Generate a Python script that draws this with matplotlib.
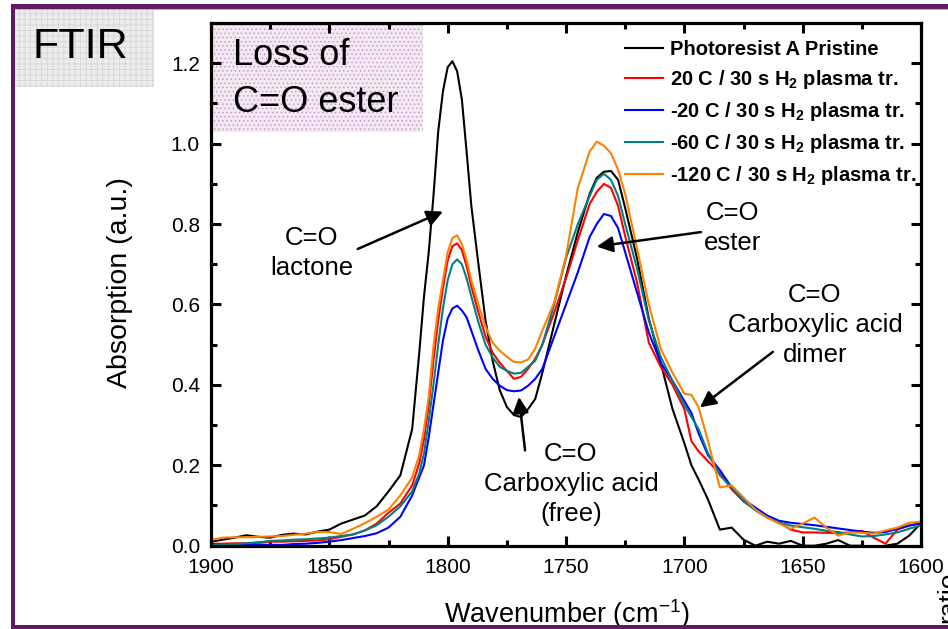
import matplotlib
matplotlib.use("Agg")
import matplotlib.pyplot as plt
from matplotlib.patches import Rectangle
from matplotlib.ticker import MultipleLocator, FormatStrFormatter

plt.rcParams['font.family'] = ['Liberation Sans', 'DejaVu Sans']
plt.rcParams['mathtext.fontset'] = 'custom'
plt.rcParams['mathtext.rm'] = 'Liberation Sans'
plt.rcParams['mathtext.bf'] = 'Liberation Sans:bold'
plt.rcParams['hatch.linewidth'] = 0.6

# wavenumber grid (cm-1), shared by all spectra
Wavenumber = [1900, 1895, 1890, 1885, 1880, 1875, 1870, 1865, 1860, 1855, 1850, 1845, 1840, 1835,
              1830, 1825, 1820, 1815, 1812, 1810, 1808, 1806, 1804, 1802, 1800, 1798, 1796, 1794,
              1792, 1790, 1787, 1784, 1781, 1778, 1775, 1772, 1769, 1766, 1763, 1760, 1755, 1750,
              1745, 1740, 1737, 1734, 1731, 1728, 1725, 1720, 1715, 1710, 1705, 1700, 1697, 1694,
              1690, 1685, 1680, 1675, 1670, 1665, 1660, 1655, 1650, 1645, 1640, 1635, 1630, 1625,
              1620, 1615, 1610, 1605, 1600]

Pristine = [0.010, 0.015, 0.020, 0.026, 0.022, 0.020, 0.027, 0.030, 0.028, 0.035, 0.040, 0.055, 0.065, 0.075,
            0.098, 0.135, 0.175, 0.290, 0.480, 0.620, 0.730, 0.870, 1.030, 1.130, 1.190, 1.205, 1.180, 1.110,
            0.980, 0.845, 0.700, 0.560, 0.460, 0.387, 0.345, 0.325, 0.320, 0.340, 0.365, 0.430, 0.550, 0.670,
            0.780, 0.875, 0.915, 0.930, 0.932, 0.910, 0.840, 0.715, 0.565, 0.455, 0.340, 0.255, 0.200, 0.165,
            0.115, 0.040, 0.045, 0.015, 0.000, 0.010, 0.005, 0.012, 0.000, 0.000, 0.005, 0.014, 0.000, 0.000,
            -0.005, 0.000, 0.005, 0.025, 0.056]

Plus20 = [0.005, 0.005, 0.006, 0.006, 0.008, 0.010, 0.010, 0.011, 0.012, 0.013, 0.016, 0.022, 0.028, 0.038,
          0.055, 0.082, 0.105, 0.150, 0.205, 0.265, 0.350, 0.460, 0.560, 0.640, 0.710, 0.745, 0.752, 0.735,
          0.695, 0.645, 0.580, 0.520, 0.480, 0.455, 0.435, 0.415, 0.420, 0.440, 0.465, 0.500, 0.580, 0.665,
          0.760, 0.850, 0.880, 0.900, 0.890, 0.845, 0.770, 0.655, 0.505, 0.445, 0.400, 0.340, 0.260, 0.235,
          0.210, 0.180, 0.140, 0.110, 0.090, 0.072, 0.058, 0.040, 0.033, 0.033, 0.032, 0.031, 0.033, 0.037,
          0.020, 0.005, 0.040, 0.050, 0.056]

Minus20 = [0.003, 0.003, 0.004, 0.004, 0.003, 0.002, 0.002, 0.004, 0.005, 0.007, 0.010, 0.014, 0.019, 0.024,
           0.031, 0.045, 0.072, 0.125, 0.170, 0.200, 0.270, 0.350, 0.430, 0.510, 0.565, 0.590, 0.597, 0.585,
           0.568, 0.535, 0.485, 0.440, 0.415, 0.398, 0.387, 0.384, 0.386, 0.398, 0.415, 0.440, 0.520, 0.600,
           0.680, 0.768, 0.800, 0.825, 0.820, 0.790, 0.730, 0.630, 0.530, 0.455, 0.410, 0.360, 0.330, 0.280,
           0.225, 0.188, 0.145, 0.115, 0.095, 0.075, 0.062, 0.057, 0.054, 0.051, 0.047, 0.043, 0.039, 0.035,
           0.032, 0.034, 0.042, 0.050, 0.056]

Minus60 = [0.002, 0.003, 0.004, 0.006, 0.008, 0.012, 0.013, 0.015, 0.016, 0.018, 0.020, 0.024, 0.028, 0.038,
           0.051, 0.072, 0.098, 0.135, 0.180, 0.230, 0.310, 0.400, 0.500, 0.590, 0.660, 0.700, 0.712, 0.700,
           0.665, 0.620, 0.555, 0.500, 0.468, 0.445, 0.435, 0.428, 0.430, 0.445, 0.460, 0.500, 0.600, 0.715,
           0.800, 0.870, 0.910, 0.925, 0.910, 0.870, 0.800, 0.690, 0.560, 0.470, 0.410, 0.350, 0.320, 0.290,
           0.230, 0.175, 0.145, 0.112, 0.088, 0.070, 0.058, 0.050, 0.046, 0.042, 0.037, 0.034, 0.028, 0.023,
           0.024, 0.028, 0.033, 0.042, 0.051]

Minus120 = [0.014, 0.020, 0.021, 0.021, 0.022, 0.023, 0.024, 0.027, 0.030, 0.034, 0.034, 0.029, 0.042, 0.056,
            0.072, 0.090, 0.125, 0.170, 0.225, 0.290, 0.370, 0.495, 0.590, 0.660, 0.730, 0.765, 0.772, 0.750,
            0.710, 0.660, 0.600, 0.545, 0.505, 0.485, 0.470, 0.457, 0.456, 0.463, 0.490, 0.535, 0.605, 0.720,
            0.890, 0.980, 1.005, 0.995, 0.976, 0.935, 0.875, 0.740, 0.600, 0.490, 0.430, 0.378, 0.375, 0.345,
            0.260, 0.145, 0.150, 0.120, 0.090, 0.070, 0.055, 0.042, 0.055, 0.070, 0.045, 0.025, 0.033, 0.032,
            0.030, 0.038, 0.045, 0.057, 0.060]

Spectra = [Pristine, Plus20, Minus20, Minus60, Minus120]
Labels = ["Photoresist A Pristine",
          r"20 C / 30 s $\mathbf{H_2}$ plasma tr.",
          r"-20 C / 30 s $\mathbf{H_2}$ plasma tr.",
          r"-60 C / 30 s $\mathbf{H_2}$ plasma tr.",
          r"-120 C / 30 s $\mathbf{H_2}$ plasma tr."]
Colors = ["black", "#ff0000", "#0000ff", "#008080", "#ff8000"]

# (text, text position, arrow tail, arrow tip) in data units
Notes = [("C=O\nlactone", (1857.5, 0.728), (1838.0, 0.738), (1802.0, 0.831)),
         ("C=O\nester", (1679.5, 0.790), (1693.0, 0.780), (1737.0, 0.744)),
         ("C=O\nCarboxylic acid\ndimer", (1644.8, 0.549), (1662.6, 0.482), (1693.4, 0.344)),
         ("C=O\nCarboxylic acid\n(free)", (1747.9, 0.153), (1767.3, 0.237), (1769.9, 0.370))]

Figure = plt.figure(figsize=(9.48, 6.29), dpi=100)
W, H = 948.0, 629.0

def px_rect(x0, y0, x1, y1, **kw):
    # rectangle given in pixel coords from the top-left corner
    Figure.patches.append(Rectangle((x0 / W, 1 - y1 / H), (x1 - x0) / W, (y1 - y0) / H,
                                    transform=Figure.transFigure, figure=Figure, **kw))

# slide frame
Purple = "#621862"
px_rect(11, 4.5, 948, 8.5, facecolor=Purple, lw=0, zorder=5)
px_rect(11, 8.5, 948, 10, facecolor="#c9a9c9", lw=0, zorder=5)
px_rect(11, 4.5, 15, 629, facecolor=Purple, lw=0, zorder=5)
px_rect(11, 625, 948, 629, facecolor=Purple, lw=0, zorder=5)

# FTIR tag
px_rect(15, 10, 154, 87, facecolor="#ececec", edgecolor="#d6d6d6", hatch="+++", lw=0, zorder=1)
Figure.text(33 / W, 1 - 58 / H, "FTIR", fontsize=31, ha="left", va="baseline", zorder=6)

Ax = Figure.add_axes([211 / W, 1 - 545.7 / H, 710 / W, 522.7 / H])
Ax.set_facecolor("none")

# highlight box inside the plot
Ax.add_patch(Rectangle((0, 0.7915), 0.2986, 0.2085, transform=Ax.transAxes,
                       facecolor="#f3e9f3", edgecolor="#c79ac7", hatch="....", lw=0, zorder=0.5))
Ax.text(0.031, 0.9196, "Loss of", transform=Ax.transAxes, fontsize=26, ha="left", va="baseline")
Ax.text(0.031, 0.8296, "C=O ester", transform=Ax.transAxes, fontsize=26, ha="left", va="baseline")

for Values, Label, Color in zip(Spectra, Labels, Colors):
    Ax.plot(Wavenumber, Values, color=Color, lw=1.5, label=Label)

for Text, TextPos, Tail, Tip in Notes:
    Ax.text(TextPos[0], TextPos[1], Text, fontsize=18.5, ha="center", va="center", linespacing=1.3)
    Ax.annotate("", xy=Tip, xytext=Tail,
                arrowprops=dict(arrowstyle="-|>", color="black", lw=1.8, mutation_scale=24,
                                shrinkA=0, shrinkB=0))

Ax.set_xlim(1900, 1600)
Ax.set_ylim(0, 1.3)
Ax.xaxis.set_major_locator(MultipleLocator(50))
Ax.xaxis.set_minor_locator(MultipleLocator(25))
Ax.yaxis.set_major_locator(MultipleLocator(0.2))
Ax.yaxis.set_minor_locator(MultipleLocator(0.1))
Ax.yaxis.set_major_formatter(FormatStrFormatter("%.1f"))
Ax.tick_params(which="both", direction="in", top=True, right=True, width=2.2, labelsize=15)
Ax.tick_params(which="major", length=7.5)
Ax.tick_params(which="minor", length=4.5)
Ax.tick_params(axis="x", pad=9)
Ax.tick_params(axis="y", pad=8)
for Spine in Ax.spines.values():
    Spine.set_linewidth(2.3)

Ax.set_xlabel("Wavenumber (cm$^{-1}$)", fontsize=19.5)
Ax.set_ylabel("Absorption (a.u.)", fontsize=20.5)
Ax.xaxis.set_label_coords(0.501, -0.098)
Ax.yaxis.set_label_coords(-0.11, 0.503)

Ax.legend(loc="upper left", bbox_to_anchor=(0.583, 0.967), frameon=False,
          prop={"weight": "bold", "size": 14.5}, handlelength=1.9, handletextpad=0.35,
          labelspacing=0.44, borderaxespad=0, borderpad=0)

# cut-off label of the neighbouring chart
Figure.text(936 / W, 1 - 572 / H, "ratio", rotation=90, fontsize=19, ha="left", va="top")

Figure.savefig("out.png", dpi=100)
